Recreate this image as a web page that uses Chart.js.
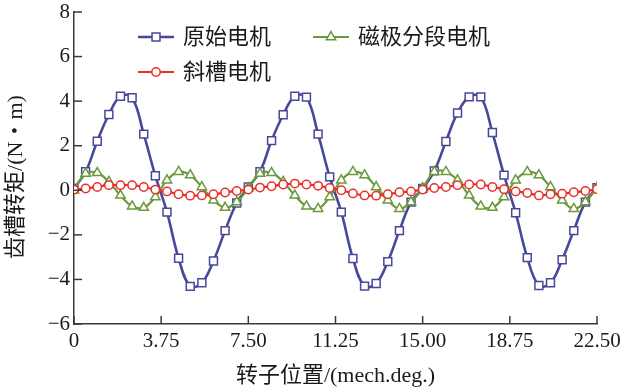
<!DOCTYPE html>
<html><head><meta charset="utf-8">
<script src="https://cdn.jsdelivr.net/npm/chart.js@4/dist/chart.umd.min.js"></script>
<style>html,body{margin:0;padding:0;background:#fff;}#wrap{width:622px;height:392px;position:relative;}</style>
</head><body><div id="wrap"><canvas id="c" width="622" height="392"></canvas></div>
<script>
const seriesNames = ['原始电机', '磁极分段电机', '斜槽电机'];
const xTitle = '转子位置/(mech.deg.)';
const yTitle = '齿槽转矩/(N\u30FBm)';
const xTickValues = [0, 3.75, 7.5, 11.25, 15, 18.75, 22.5];
const xTickLabels = ['0', '3.75', '7.50', '11.25', '15.00', '18.75', '22.50'];
const yTickValues = [-6, -4, -2, 0, 2, 4, 6, 8];
const yTickLabels = ['\u22126', '\u22124', '\u22122', '0', '2', '4', '6', '8'];
const positions = [0,0.5,1,1.5,2,2.5,3,3.5,4,4.5,5,5.5,6,6.5,7,7.5,8,8.5,9,9.5,10,10.5,11,11.5,12,12.5,13,13.5,14,14.5,15,15.5,16,16.5,17,17.5,18,18.5,19,19.5,20,20.5,21,21.5,22,22.5];
const originalMotor = [0.08,0.83,2.2,3.4,4.22,4.15,2.52,0.65,-0.98,-3.05,-4.31,-4.15,-3.17,-1.81,-0.57,0.15,
  0.83,2.23,3.39,4.22,4.18,2.52,0.6,-0.98,-3.06,-4.3,-4.18,-3.2,-1.81,-0.53,0.08,
  0.87,2.19,3.47,4.19,4.19,2.59,0.68,-1.01,-3.02,-4.27,-4.15,-3.12,-1.81,-0.53,0.12];
const segmentedMotor = [0,0.75,0.78,0.38,-0.23,-0.72,-0.78,-0.3,0.45,0.83,0.68,0.15,-0.45,-0.78,-0.53,0.1,
  0.75,0.78,0.38,-0.23,-0.72,-0.83,-0.3,0.45,0.83,0.68,0.15,-0.45,-0.83,-0.53,0.1,
  0.83,0.83,0.45,-0.23,-0.72,-0.78,-0.3,0.45,0.83,0.68,0.15,-0.45,-0.83,-0.53,0.12];
const skewedMotor = [0.03,0.08,0.15,0.23,0.23,0.23,0.15,0.03,-0.05,-0.18,-0.24,-0.23,-0.18,-0.1,-0.03,0.03,
  0.12,0.18,0.26,0.3,0.26,0.2,0.1,0.0,-0.14,-0.23,-0.24,-0.18,-0.09,-0.05,0.03,
  0.1,0.15,0.23,0.26,0.26,0.15,0.05,-0.05,-0.12,-0.23,-0.18,-0.15,-0.09,-0.03,0.05];

const FONT = "'Liberation Serif', 'Noto Sans CJK SC', serif";
const AXIS = '#3a3a3a';
const TEXT = '#1a1a1a';
const toXY = arr => arr.map((v, i) => ({x: positions[i], y: v}));

function drawMarker(ctx, style, r, x, y, stroke, bw) {
  ctx.save();
  ctx.beginPath();
  if (style === 'rect') { const s = Math.SQRT1_2 * r; ctx.rect(x - s, y - s, 2*s, 2*s); }
  else if (style === 'triangle') {
    let a = 0;
    ctx.moveTo(x + Math.sin(a)*r, y - Math.cos(a)*r); a += 2*Math.PI/3;
    ctx.lineTo(x + Math.sin(a)*r, y - Math.cos(a)*r); a += 2*Math.PI/3;
    ctx.lineTo(x + Math.sin(a)*r, y - Math.cos(a)*r); ctx.closePath();
  } else { ctx.arc(x, y, r, 0, Math.PI*2); }
  ctx.fillStyle = '#fff'; ctx.fill();
  ctx.lineWidth = bw; ctx.strokeStyle = stroke; ctx.stroke();
  ctx.restore();
}

const legendPlugin = {
  id: 'customLegend',
  afterDraw(chart) {
    const ctx = chart.ctx;
    const slots = [{ds: 0, x: 138, y: 37}, {ds: 1, x: 313, y: 37}, {ds: 2, x: 138, y: 72}];
    slots.forEach(s => {
      const d = chart.data.datasets[s.ds];
      ctx.save();
      ctx.strokeStyle = d.borderColor; ctx.lineWidth = d.borderWidth;
      ctx.beginPath(); ctx.moveTo(s.x, s.y); ctx.lineTo(s.x + 36, s.y); ctx.stroke();
      drawMarker(ctx, d.pointStyle, d.pointRadius, s.x + 18, s.y, d.pointBorderColor, d.pointBorderWidth);
      ctx.fillStyle = TEXT;
      ctx.font = "22px " + FONT;
      ctx.textBaseline = 'middle'; ctx.textAlign = 'left';
      ctx.fillText(d.label, s.x + 45, s.y + 1);
      ctx.restore();
    });
  }
};

const axisDecorPlugin = {
  id: 'axisDecor',
  afterDraw(chart) {
    const ctx = chart.ctx, xs = chart.scales.x, ys = chart.scales.y, a = chart.chartArea;
    ctx.save(); ctx.strokeStyle = AXIS; ctx.lineWidth = 1.5;
    xTickValues.forEach(v => { const p = xs.getPixelForValue(v); ctx.beginPath(); ctx.moveTo(p, a.bottom); ctx.lineTo(p, a.bottom - 8); ctx.stroke(); });
    yTickValues.forEach(v => { const p = ys.getPixelForValue(v); ctx.beginPath(); ctx.moveTo(a.left, p); ctx.lineTo(a.left + 8, p); ctx.stroke(); });
    ctx.restore();
    // y axis title
    ctx.save();
    ctx.translate(16, 177);
    ctx.rotate(-Math.PI / 2);
    ctx.fillStyle = TEXT; ctx.font = "22px " + FONT;
    ctx.textAlign = 'center'; ctx.textBaseline = 'middle';
    ctx.fillText(yTitle, 0, 0);
    ctx.restore();
  }
};

new Chart(document.getElementById('c'), {
  type: 'line',
  data: {
    datasets: [
      {label: seriesNames[0], data: toXY(originalMotor), borderColor: '#48489a', borderWidth: 2.6, pointStyle: 'rect', pointRadius: 5.6, pointBorderColor: '#48489a', pointBackgroundColor: '#fff', pointBorderWidth: 1.5, tension: 0.4, order: 3},
      {label: seriesNames[1], data: toXY(segmentedMotor), borderColor: '#6b9a3c', borderWidth: 2.2, pointStyle: 'triangle', pointRadius: 5.4, pointBorderColor: '#6b9a3c', pointBackgroundColor: '#fff', pointBorderWidth: 1.5, tension: 0.4, order: 2},
      {label: seriesNames[2], data: toXY(skewedMotor), borderColor: '#e8302a', borderWidth: 2.2, pointStyle: 'circle', pointRadius: 4.2, pointBorderColor: '#e8302a', pointBackgroundColor: '#fff', pointBorderWidth: 1.5, tension: 0.4, order: 1}
    ]
  },
  options: {
    responsive: false, animation: false, devicePixelRatio: 1,
    layout: {padding: {top: 12, right: 25, left: 0, bottom: 0}},
    plugins: {legend: {display: false}, tooltip: {enabled: false}},
    scales: {
      x: {
        type: 'linear', min: 0, max: 22.5,
        afterBuildTicks: s => { s.ticks = xTickValues.map(v => ({value: v})); },
        afterFit: s => { s.height = 68; },
        grid: {display: false},
        border: {display: true, color: AXIS, width: 1.5},
        ticks: {padding: -3, color: TEXT, font: {family: FONT, size: 21}, maxRotation: 0, autoSkip: false,
          callback: (v) => { const i = xTickValues.indexOf(v); return i >= 0 ? xTickLabels[i] : ''; }},
        title: {display: true, text: xTitle, color: TEXT, font: {family: FONT, size: 22}, padding: {top: 0, bottom: 3}}
      },
      y: {
        type: 'linear', min: -6, max: 8,
        afterBuildTicks: s => { s.ticks = yTickValues.map(v => ({value: v})); },
        afterFit: s => { s.width = 74; },
        grid: {display: false},
        border: {display: true, color: AXIS, width: 1.5},
        ticks: {padding: -4, color: TEXT, font: {family: FONT, size: 21},
          callback: (v) => { const i = yTickValues.indexOf(v); return i >= 0 ? yTickLabels[i] : ''; }},
        title: {display: false}
      }
    }
  },
  plugins: [legendPlugin, axisDecorPlugin]
});
</script></body></html>
